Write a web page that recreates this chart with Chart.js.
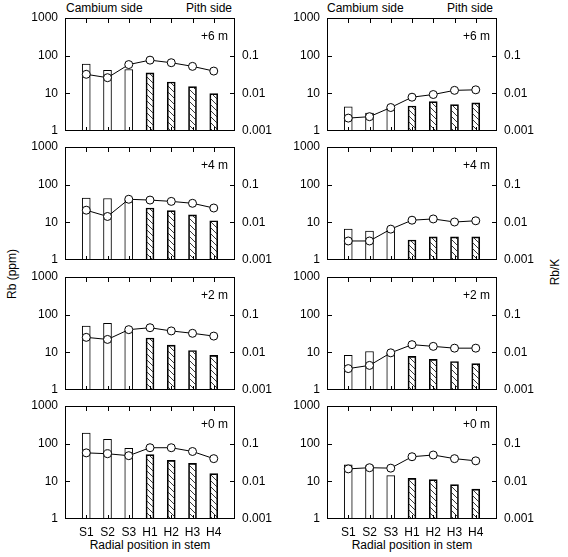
<!DOCTYPE html>
<html>
<head>
<meta charset="utf-8">
<script src="https://cdn.jsdelivr.net/npm/chart.js@4"></script>
<style>
body { margin: 0; background: #fff; }
#wrap { position: relative; width: 568px; height: 557px; overflow: hidden;
        font-family: "Liberation Sans", Arial, sans-serif; font-size: 12px; color: #000; }
#wrap canvas, .lbl { position: absolute; }
.lbl { white-space: nowrap; line-height: 14px; }
.mid { transform: translate(-50%, -50%); }
.rot { transform: translate(-50%, -50%) rotate(-90deg); }
</style>
</head>
<body>
<div id="wrap">
  <div class="lbl" style="left:66px; top:1px">Cambium side</div>
  <div class="lbl" style="right:336px; top:1px">Pith side</div>
  <div class="lbl" style="left:327px; top:1px">Cambium side</div>
  <div class="lbl" style="right:75px; top:1px">Pith side</div>
  <div class="lbl rot" style="left:12px; top:274px">Rb (ppm)</div>
  <div class="lbl rot" style="left:555px; top:272px">Rb/K</div>
  <div class="lbl mid" style="left:150px; top:545px">Radial position in stem</div>
  <div class="lbl mid" style="left:412px; top:545px">Radial position in stem</div>
</div>
<script>
// categories and panel names
const categories = ['S1', 'S2', 'S3', 'H1', 'H2', 'H3', 'H4'];
const heights = ['+6 m', '+4 m', '+2 m', '+0 m'];

// left column: Rb (ppm) bars and Rb/K circles
const rbA6 = [60, 41, 43, 35, 20, 15, 9.8];
const rbkA6 = [0.032, 0.026, 0.058, 0.076, 0.065, 0.052, 0.039];
const rbA4 = [44, 43, 40, 24, 20.5, 15.8, 11];
const rbkA4 = [0.021, 0.0143, 0.041, 0.039, 0.036, 0.032, 0.024];
const rbA2 = [50, 59, 38, 24, 15.5, 11.2, 8.3];
const rbkA2 = [0.025, 0.022, 0.040, 0.045, 0.037, 0.032, 0.027];
const rbA0 = [190, 130, 75, 51, 36, 30, 16];
const rbkA0 = [0.057, 0.054, 0.048, 0.078, 0.078, 0.062, 0.040];

// right column
const rbB6 = [4.4, 3.0, 4.0, 4.6, 6.0, 5.0, 5.6];
const rbkB6 = [0.0022, 0.0024, 0.0042, 0.0079, 0.0093, 0.012, 0.0124];
const rbB4 = [6.6, 5.9, 6.2, 3.4, 4.1, 4.1, 4.1];
const rbkB4 = [0.0032, 0.0032, 0.0066, 0.0114, 0.0123, 0.0102, 0.011];
const rbB2 = [8.3, 10.5, 9.5, 7.8, 6.5, 5.7, 5.0];
const rbkB2 = [0.0037, 0.0045, 0.0097, 0.016, 0.0144, 0.0129, 0.0129];
const rbB0 = [27.4, 26, 14.2, 12, 11.1, 8.2, 6.2];
const rbkB0 = [0.0214, 0.023, 0.0224, 0.045, 0.050, 0.040, 0.035];

const leftTicks = [1, 10, 100, 1000];
const rightTicks = [0.001, 0.01, 0.1];

Chart.defaults.font.family = '"Liberation Sans", Arial, sans-serif';
Chart.defaults.font.size = 12;
Chart.defaults.color = '#000';

const wrap = document.getElementById('wrap');
const rowTop = [18, 147, 277, 406];
const PAD = 16;

// diagonal hatching for heartwood bars
function makeHatch() {
    const c = document.createElement('canvas');
    c.width = 6; c.height = 6;
    const g = c.getContext('2d');
    g.strokeStyle = '#222';
    g.lineWidth = 0.9;
    g.beginPath();
    g.moveTo(0, 0); g.lineTo(6, 6);
    g.moveTo(-1, 5); g.lineTo(1, 7);
    g.moveTo(5, -1); g.lineTo(7, 1);
    g.stroke();
    return g.createPattern(c, 'repeat');
}
const hatch = makeHatch();

// box, inward ticks and the height label
const frame = {
    id: 'frame',
    afterDraw(chart, args, opts) {
        const ctx = chart.ctx, a = chart.chartArea, s = chart.scales;
        ctx.save();
        ctx.strokeStyle = '#000';
        ctx.lineWidth = 1;
        ctx.beginPath();
        categories.forEach((c, i) => {
            const x = Math.round(s.x.getPixelForValue(i + 1)) + 0.5;
            ctx.moveTo(x, a.top); ctx.lineTo(x, a.top + 5);
            ctx.moveTo(x, a.bottom); ctx.lineTo(x, a.bottom - 4);
        });
        [10, 100].forEach(v => {
            const y = Math.round(s.y.getPixelForValue(v)) + 0.5;
            ctx.moveTo(a.left, y); ctx.lineTo(a.left + 5, y);
        });
        [0.01, 0.1].forEach(v => {
            const y = Math.round(s.y1.getPixelForValue(v)) + 0.5;
            ctx.moveTo(a.right, y); ctx.lineTo(a.right - 5, y);
        });
        ctx.stroke();
        ctx.strokeRect(Math.round(a.left) + 0.5, Math.round(a.top) + 0.5,
                       Math.round(a.width) - 1, Math.round(a.height) - 1);
        ctx.font = '12px "Liberation Sans", Arial, sans-serif';
        ctx.fillStyle = '#000';
        ctx.textAlign = 'right';
        ctx.textBaseline = 'middle';
        ctx.fillText(opts.text, a.right - 7, a.top + 19);
        ctx.restore();
    }
};

function panel(col, row, rb, rbk) {
    const last = row === 3;
    const xh = last ? 30 : PAD;
    const cw = col === 0 ? 283 : 285;
    const cv = document.createElement('canvas');
    cv.width = cw;
    cv.height = PAD + 113 + xh;
    cv.style.left = (col === 0 ? 0 : 283) + 'px';
    cv.style.top = (rowTop[row] - PAD) + 'px';
    wrap.appendChild(cv);

    const leftW = col === 0 ? 65 : 44;
    const rightW = col === 0 ? 48 : 71;
    const labels = [''].concat(categories, ['']);
    const pad = arr => [null].concat(arr, [null]);

    new Chart(cv, {
        data: {
            labels: labels,
            datasets: [{
                type: 'line',
                data: pad(rbk),
                yAxisID: 'y1',
                order: 0,
                borderColor: '#000',
                borderWidth: 1,
                pointRadius: 4,
                pointBackgroundColor: '#fff',
                pointBorderColor: '#000',
                pointBorderWidth: 1
            }, {
                type: 'bar',
                data: pad(rb),
                yAxisID: 'y',
                order: 1,
                backgroundColor: labels.map(l => l[0] === 'H' ? hatch : '#fff'),
                borderColor: '#000',
                borderWidth: 1,
                barThickness: 8
            }]
        },
        options: {
            responsive: false,
            animation: false,
            layout: { padding: { top: PAD, left: 0, right: 0, bottom: 0 } },
            plugins: {
                legend: { display: false },
                tooltip: { enabled: false },
                frame: { text: heights[row] }
            },
            scales: {
                x: {
                    type: 'category',
                    offset: false,
                    grid: { display: false, drawTicks: false },
                    border: { display: false },
                    ticks: { display: last, autoSkip: false, maxRotation: 0, padding: 6 },
                    afterFit: s => { s.height = xh; }
                },
                y: {
                    type: 'logarithmic',
                    position: 'left',
                    min: 1, max: 1000,
                    grid: { display: false, drawTicks: false },
                    border: { display: false },
                    afterBuildTicks: s => { s.ticks = leftTicks.map(v => ({ value: v })); },
                    ticks: { padding: 7, callback: v => String(v) },
                    afterFit: s => { s.width = leftW; }
                },
                y1: {
                    type: 'logarithmic',
                    position: 'right',
                    min: 0.001, max: 1,
                    grid: { display: false, drawTicks: false },
                    border: { display: false },
                    afterBuildTicks: s => { s.ticks = rightTicks.map(v => ({ value: v })); },
                    ticks: { padding: 7, callback: v => String(v) },
                    afterFit: s => { s.width = rightW; }
                }
            }
        },
        plugins: [frame]
    });
}

panel(0, 0, rbA6, rbkA6);
panel(0, 1, rbA4, rbkA4);
panel(0, 2, rbA2, rbkA2);
panel(0, 3, rbA0, rbkA0);
panel(1, 0, rbB6, rbkB6);
panel(1, 1, rbB4, rbkB4);
panel(1, 2, rbB2, rbkB2);
panel(1, 3, rbB0, rbkB0);
</script>
</body>
</html>
